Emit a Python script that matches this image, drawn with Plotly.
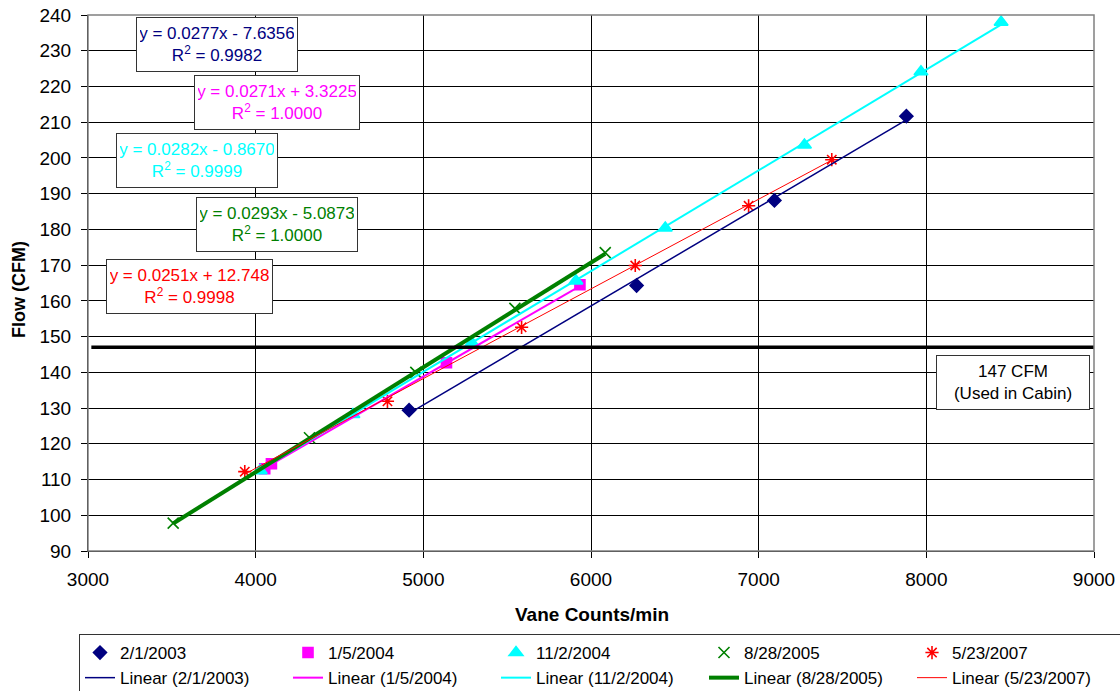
import plotly.graph_objects as go

# ---------------- data ----------------
series_names = ["2/1/2003", "1/5/2004", "11/2/2004", "8/28/2005", "5/23/2007"]

x_2003 = [4915, 6272, 7094, 7881]
y_2003 = [129.4, 164.3, 188.1, 211.7]

x_2004a = [4054, 4094, 5138, 5934]
y_2004a = [113.0, 114.4, 142.7, 164.5]

x_2004b = [4027, 4580, 5290, 5910, 6443, 7273, 7968, 8446]
y_2004b = [112.5, 128.2, 148.2, 165.6, 180.4, 203.6, 224.1, 238.0]

x_2005 = [3508, 4321, 4955, 5546, 6085]
y_2005 = [97.8, 121.7, 140.0, 157.9, 173.5]

x_2007 = [3935, 4786, 5586, 6264, 6940, 7436]
y_2007 = [112.2, 131.9, 152.6, 169.9, 186.6, 199.5]

# trendline coefficients (as printed on the chart)
slopes = [0.0277, 0.0271, 0.0282, 0.0293, 0.0251]
intercepts = [-7.6356, 3.3225, -0.8670, -5.0873, 12.748]
r_squared = ["0.9982", "1.0000", "0.9999", "1.0000", "0.9998"]

cabin_flow = 147
cabin_x = [3020, 9000]

x_ticks = [3000, 4000, 5000, 6000, 7000, 8000, 9000]
y_ticks = list(range(90, 241, 10))

# ---------------- styles ----------------
colors = ["#000080", "#FF00FF", "#00FFFF", "#008000", "#FF0000"]
symbols = ["diamond", "square", "triangle-up", "x-thin-open", "asterisk-open"]
msizes = [10, 10, 12, 11, 11]
line_widths = [1.5, 2, 2, 4, 1]
FONT = "Liberation Sans, Arial, sans-serif"

xs = [x_2003, x_2004a, x_2004b, x_2005, x_2007]
ys = [y_2003, y_2004a, y_2004b, y_2005, y_2007]

fig = go.Figure()

# scatter points
for i in range(5):
    fig.add_trace(go.Scatter(
        x=xs[i], y=ys[i], mode="markers", name=series_names[i],
        marker=dict(symbol=symbols[i], size=msizes[i], color=colors[i],
                    line=dict(color=colors[i], width=1.6)),
    ))

# trendlines
for i in range(5):
    x0, x1 = min(xs[i]), max(xs[i])
    fig.add_trace(go.Scatter(
        x=[x0, x1], y=[slopes[i] * x0 + intercepts[i], slopes[i] * x1 + intercepts[i]],
        mode="lines", name=f"Linear ({series_names[i]})",
        line=dict(color=colors[i], width=line_widths[i]),
    ))

# 147 CFM line
fig.add_trace(go.Scatter(
    x=cabin_x, y=[cabin_flow, cabin_flow], mode="lines", showlegend=False,
    line=dict(color="black", width=3.5), hoverinfo="skip",
))

# ---------------- layout helpers ----------------
L, R, T, B = 88, 1094, 15, 551
def px(xp):
    return (xp - L) / (R - L)
def py(yp):
    return (B - yp) / (B - T)

annotations = []
box_centers = [(217, 44.5), (277, 102.5), (196.5, 161), (277, 224), (189.5, 286.5)]
box_widths = [154, 158, 154, 154, 159]
for i in range(5):
    sign = "+" if intercepts[i] >= 0 else "-"
    ic = abs(intercepts[i])
    ic_txt = f"{ic:.4f}" if i != 4 else f"{ic:.3f}"
    txt = f"y = {slopes[i]:.4f}x {sign} {ic_txt}<br>R<sup>2</sup> = {r_squared[i]}"
    cx, cy = box_centers[i]
    annotations.append(dict(
        x=px(cx), y=py(cy), xref="paper", yref="paper", text=txt, showarrow=False,
        font=dict(family=FONT, size=17, color=colors[i]),
        bgcolor="white", bordercolor="#333333", borderwidth=1, borderpad=3,
        width=box_widths[i], height=47, xanchor="center", yanchor="middle",
        align="center", valign="middle",
    ))

annotations.append(dict(
    x=px(1013), y=py(382.5), xref="paper", yref="paper",
    text=f"{cabin_flow} CFM<br>(Used in Cabin)", showarrow=False,
    font=dict(family=FONT, size=17, color="black"),
    bgcolor="white", bordercolor="#333333", borderwidth=1, borderpad=3,
    width=146, height=47, xanchor="center", yanchor="middle", align="center",
))

# axis titles
annotations.append(dict(
    x=px(592), y=py(614), xref="paper", yref="paper", text="<b>Vane Counts/min</b>",
    showarrow=False, font=dict(family=FONT, size=19, color="black"),
    xanchor="center", yanchor="middle",
))
annotations.append(dict(
    x=px(19), y=py(290), xref="paper", yref="paper", text="<b>Flow (CFM)</b>",
    showarrow=False, textangle=-90, font=dict(family=FONT, size=18, color="black"),
    xanchor="center", yanchor="middle",
))

shapes = [dict(type="rect", xref="paper", yref="paper", x0=0, x1=1, y0=0, y1=1,
               line=dict(color="#808080", width=1.5), layer="above")]

fig.update_layout(
    width=1120, height=691,
    margin=dict(l=L, r=1120 - R, t=T, b=691 - B, autoexpand=False),
    paper_bgcolor="white", plot_bgcolor="white",
    font=dict(family=FONT, size=17, color="black"),
    showlegend=True,
    legend=dict(
        orientation="h", x=px(79), y=py(634), xanchor="left", yanchor="top",
        bordercolor="#333333", borderwidth=1, bgcolor="white",
        entrywidth=163, entrywidthmode="pixels", traceorder="normal",
        font=dict(family=FONT, size=17, color="black"),
    ),
    annotations=annotations,
    shapes=shapes,
)

fig.update_xaxes(
    range=[3000, 9000], tickvals=x_ticks, ticktext=[str(v) for v in x_ticks],
    showgrid=True, gridcolor="black", gridwidth=1, zeroline=False,
    showline=True, linecolor="black", linewidth=1,
    ticks="outside", ticklen=6, tickcolor="black",
    tickfont=dict(family=FONT, size=19, color="black"), ticklabelstandoff=5,
)
fig.update_yaxes(
    range=[90, 240], tickvals=y_ticks, ticktext=[str(v) for v in y_ticks],
    showgrid=True, gridcolor="black", gridwidth=1, zeroline=False,
    showline=True, linecolor="black", linewidth=1,
    ticks="outside", ticklen=6, tickcolor="black",
    tickfont=dict(family=FONT, size=19, color="black"), ticklabelstandoff=6,
)

fig.write_html("out.html", config={"displayModeBar": False},
               post_script="document.body.style.margin='0';document.body.style.overflow='hidden';")
